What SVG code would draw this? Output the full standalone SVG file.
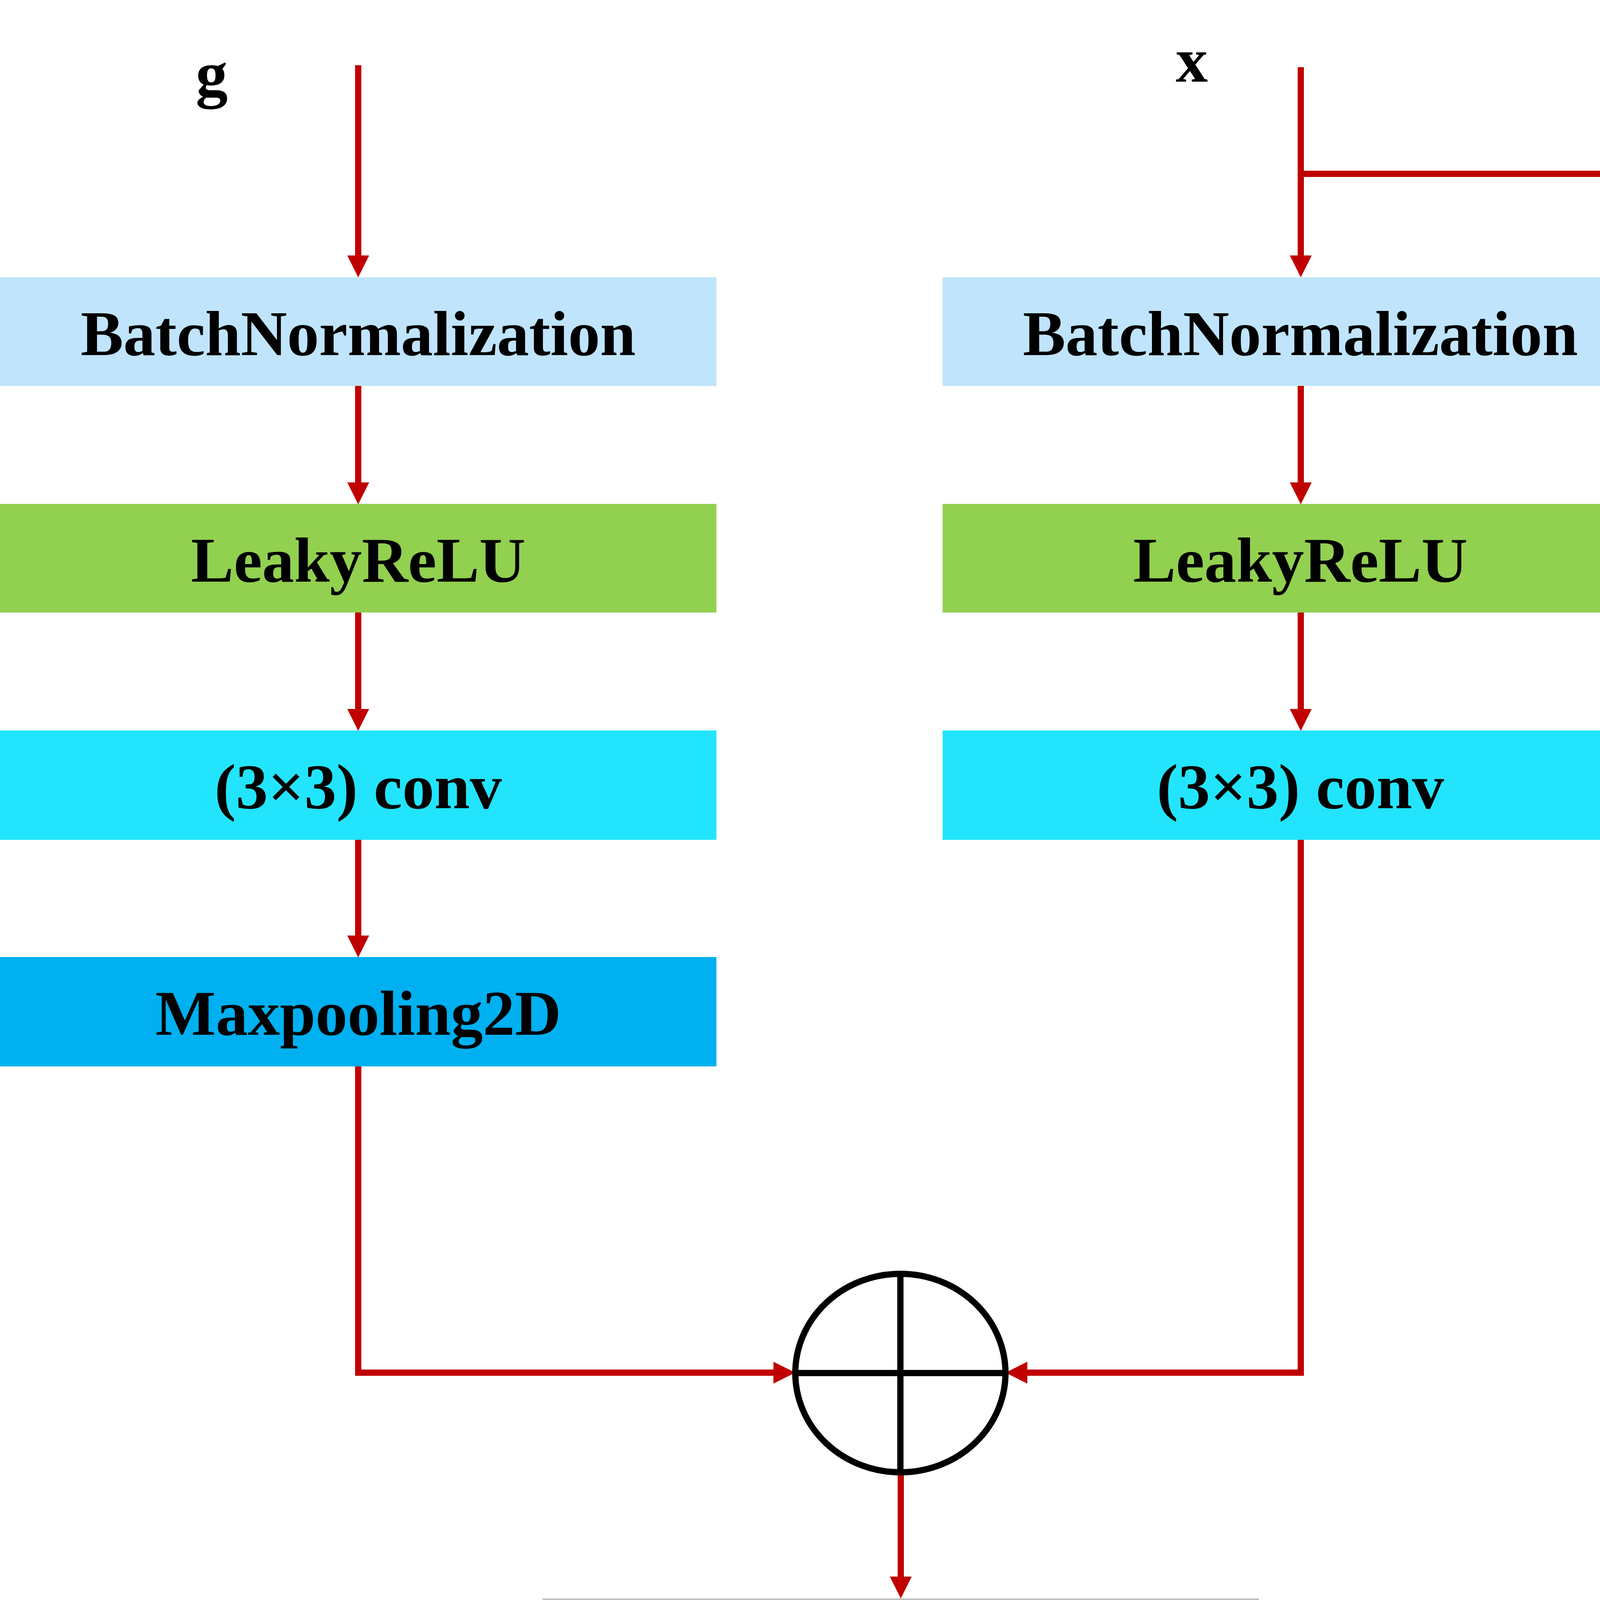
<svg xmlns="http://www.w3.org/2000/svg" width="4623" height="6553" viewBox="0 0 4623 6553">
<style>
.lbl{font-family:"Liberation Serif","Times New Roman",serif;font-weight:bold;font-size:164px;fill:#000;text-anchor:middle}
.wire{fill:none;stroke:#C00000;stroke-width:16}
.arr{marker-end:url(#ah)}
.op{fill:#fff;stroke:#000;stroke-width:16}
.opl{stroke:#000;stroke-width:16}
.bn{fill:#BFE4FC}
.lr{fill:#92D050}
.cv{fill:#23E4FD}
.mp{fill:#00B0F0}
.bn2{fill:#BFBFBF}
</style>
<defs>
<marker id="ah" markerUnits="userSpaceOnUse" markerWidth="56" markerHeight="56" refX="0" refY="28" orient="auto" viewBox="0 0 56 56">
<path d="M0,0 L56,28 L0,56 Z" fill="#C00000"/>
</marker>
</defs>
<rect width="4623" height="6553" fill="#fff"/>
<g id="labels">
<text class="lbl" x="542" y="244">g</text>
<text class="lbl" x="3051" y="209">x</text>
</g>
<g id="connectors">
<line class="wire arr" x1="917" y1="167" x2="917" y2="654"/>
<line class="wire arr" x1="917" y1="988" x2="917" y2="1235"/>
<line class="wire arr" x1="917" y1="1568" x2="917" y2="1815"/>
<line class="wire arr" x1="917" y1="2150" x2="917" y2="2395"/>
<polyline class="wire arr" points="917,2730 917,3514 1980,3514"/>
<line class="wire arr" x1="3330" y1="172" x2="3330" y2="654"/>
<line class="wire arr" x1="3330" y1="988" x2="3330" y2="1235"/>
<line class="wire arr" x1="3330" y1="1568" x2="3330" y2="1815"/>
<polyline class="wire arr" points="3330,2150 3330,3514 2630,3514"/>
<polyline class="wire arr" points="3330,445 4611,445 4611,5943 2623,5943"/>
<line class="wire arr" x1="2306" y1="3769" x2="2306" y2="4036"/>
<line class="wire arr" x1="2306" y1="4372" x2="2306" y2="4548"/>
<line class="wire arr" x1="2306" y1="4884" x2="2306" y2="5059"/>
<line class="wire arr" x1="2306" y1="5395" x2="2301" y2="5632"/>
<line class="wire arr" x1="2301" y1="6198" x2="2301" y2="6438"/>
</g>
<g id="bn-g">
<rect class="bn" x="0" y="710" width="1834" height="278"/>
<text class="lbl" x="917" y="909">BatchNormalization</text>
</g>
<g id="lr-g">
<rect class="lr" x="0" y="1290" width="1834" height="278"/>
<text class="lbl" x="917" y="1489">LeakyReLU</text>
</g>
<g id="conv-g">
<rect class="cv" x="0" y="1870" width="1834" height="280"/>
<text class="lbl" x="917" y="2069">(3×3) conv</text>
</g>
<g id="maxpool-g">
<rect class="mp" x="0" y="2450" width="1834" height="280"/>
<text class="lbl" x="917" y="2649">Maxpooling2D</text>
</g>
<g id="bn-x">
<rect class="bn" x="2413" y="710" width="1832" height="278"/>
<text class="lbl" x="3329" y="909">BatchNormalization</text>
</g>
<g id="lr-x">
<rect class="lr" x="2413" y="1290" width="1832" height="278"/>
<text class="lbl" x="3329" y="1489">LeakyReLU</text>
</g>
<g id="conv-x">
<rect class="cv" x="2413" y="1870" width="1832" height="280"/>
<text class="lbl" x="3329" y="2069">(3×3) conv</text>
</g>
<g id="add">
<ellipse class="op" cx="2305" cy="3515" rx="269" ry="254"/>
<line class="opl" x1="2305" y1="3261" x2="2305" y2="3769"/>
<line class="opl" x1="2036" y1="3515" x2="2574" y2="3515"/>
</g>
<g id="bn-sum">
<rect class="bn2" x="1389" y="4092" width="1834" height="280"/>
<text class="lbl" x="2306" y="4292">BatchNormalization</text>
</g>
<g id="lr-sum">
<rect class="lr" x="1389" y="4604" width="1834" height="280"/>
<text class="lbl" x="2306" y="4804">LeakyReLU</text>
</g>
<g id="conv-sum">
<rect class="cv" x="1389" y="5115" width="1834" height="280"/>
<text class="lbl" x="2306" y="5315">(3×3) conv</text>
</g>
<g id="mul">
<ellipse class="op" cx="2301" cy="5943" rx="270" ry="255"/>
<line class="opl" x1="2116" y1="5767" x2="2486" y2="6119"/>
<line class="opl" x1="2486" y1="5767" x2="2116" y2="6119"/>
</g>
</svg>
